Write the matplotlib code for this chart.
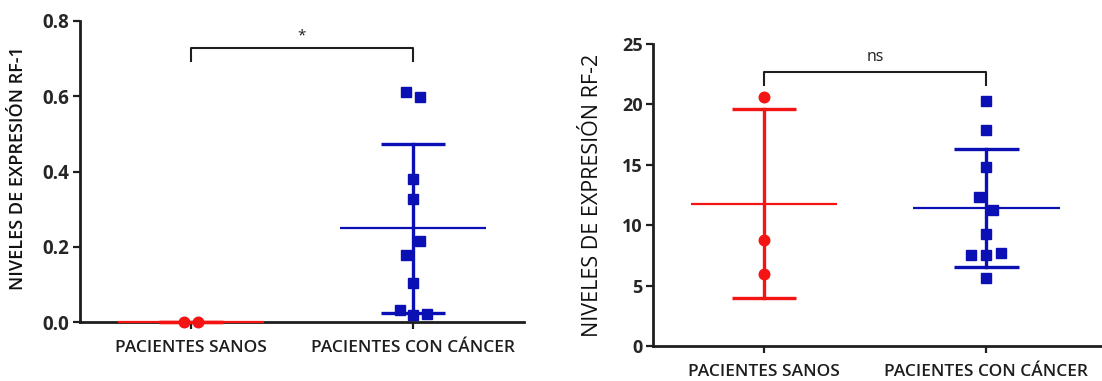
"""Two dot plots (mean +/- SD) of RF-1 and RF-2 expression levels."""

import matplotlib

matplotlib.use("Agg")
import matplotlib.pyplot as plt
import numpy as np

plt.rcParams["font.family"] = ["Open Sans", "DejaVu Sans"]

GROUPS = ["PACIENTES SANOS", "PACIENTES CON CÁNCER"]

# RF-1 values
rf1_sanos = [0.0, 0.0]
rf1_cancer = [0.612, 0.598, 0.380, 0.328, 0.216, 0.178, 0.104, 0.033, 0.019, 0.022]
rf1_ticks = [0.0, 0.2, 0.4, 0.6, 0.8]

# RF-2 values
rf2_sanos = [20.64, 8.80, 5.92]
rf2_cancer = [20.3, 17.9, 14.8, 12.3, 11.27, 9.3, 7.57, 7.57, 7.7, 5.6]
rf2_ticks = [0, 5, 10, 15, 20, 25]

# horizontal spread of the points inside each column
rf1_sanos_dx = [-0.03, 0.033]
rf1_cancer_dx = [-0.03, 0.03, 0.0, 0.0, 0.03, -0.03, 0.0, -0.06, 0.0, 0.065]
rf2_sanos_dx = [0.0, 0.0, 0.0]
rf2_cancer_dx = [0.0, 0.0, 0.0, -0.035, 0.03, 0.0, -0.07, 0.0, 0.065, 0.0]

RED = "#f41414"
BLUE = "#0b10b4"
INK = "#1e1e1e"


def draw_group(ax, x, values, dx, color, marker):
    values = np.asarray(values, dtype=float)
    mean = values.mean()
    sd = values.std(ddof=1)
    ax.plot([x - 0.33, x + 0.33], [mean, mean], color=color, lw=1.6, zorder=3,
            solid_capstyle="butt", clip_on=False)
    ax.plot([x, x], [mean - sd, mean + sd], color=color, lw=2.4, zorder=3,
            clip_on=False)
    for y in (mean - sd, mean + sd):
        ax.plot([x - 0.145, x + 0.145], [y, y], color=color, lw=2.4, zorder=3,
                solid_capstyle="butt", clip_on=False)
    ax.plot(x + np.asarray(dx), values, linestyle="none", marker=marker,
            ms=7.4 if marker == "s" else 7.6, color=color, mec=color,
            zorder=4, clip_on=False)


def bracket(ax, y_top, y_end, label, label_y, size):
    ax.plot([1, 1, 2, 2], [y_end, y_top, y_top, y_end], color=INK, lw=1.5,
            zorder=4, clip_on=False)
    ax.text(1.5, label_y, label, ha="center", va="center", fontsize=size,
            color=INK, clip_on=False)


def style_axes(ax, xlim, ticks, fmt, tick_size, cat_pad):
    ax.set_xlim(*xlim)
    ax.set_ylim(ticks[0], ticks[-1])
    ax.set_yticks(ticks)
    ax.set_yticklabels([fmt.format(t) for t in ticks], fontweight="bold",
                       fontsize=tick_size, color="#262626")
    ax.set_xticks([1, 2])
    ax.set_xticklabels(GROUPS, fontsize=12.5, fontweight="semibold", color=INK)
    ax.tick_params(axis="x", length=5, width=1.6, pad=cat_pad, color=INK)
    ax.tick_params(axis="y", length=5, width=1.6, pad=2.5, color=INK)
    for side in ("top", "right"):
        ax.spines[side].set_visible(False)
    for side in ("left", "bottom"):
        ax.spines[side].set_linewidth(2.0)
        ax.spines[side].set_color(INK)


fig = plt.figure(figsize=(11.02, 3.81), dpi=100)

ax1 = fig.add_axes([80 / 1102, 1 - 322 / 381, 444 / 1102, 301 / 381])
draw_group(ax1, 1, rf1_sanos, rf1_sanos_dx, RED, "o")
draw_group(ax1, 2, rf1_cancer, rf1_cancer_dx, BLUE, "s")
bracket(ax1, 0.729, 0.694, "*", 0.76, 11)
style_axes(ax1, (0.5, 2.5), rf1_ticks, "{:.1f}", 13.5, 8)
fig.text(18.5 / 1102, 1 - 168 / 381, "NIVELES DE EXPRESIÓN RF-1", rotation=90,
         ha="center", va="center", fontsize=13, fontweight="semibold",
         color="#111111")

ax2 = fig.add_axes([653 / 1102, 1 - 346 / 381, 449 / 1102, 302 / 381])
draw_group(ax2, 1, rf2_sanos, rf2_sanos_dx, RED, "o")
draw_group(ax2, 2, rf2_cancer, rf2_cancer_dx, BLUE, "s")
bracket(ax2, 22.7, 21.6, "ns", 23.9, 11.5)
style_axes(ax2, (0.5, 2.52), rf2_ticks, "{:d}", 13, 8)
fig.text(593 / 1102, 1 - 195 / 381, "NIVELES DE EXPRESIÓN RF-2", rotation=90,
         ha="center", va="center", fontsize=15.5, color="#111111")

fig.savefig("out.png", dpi=100, facecolor="white")
